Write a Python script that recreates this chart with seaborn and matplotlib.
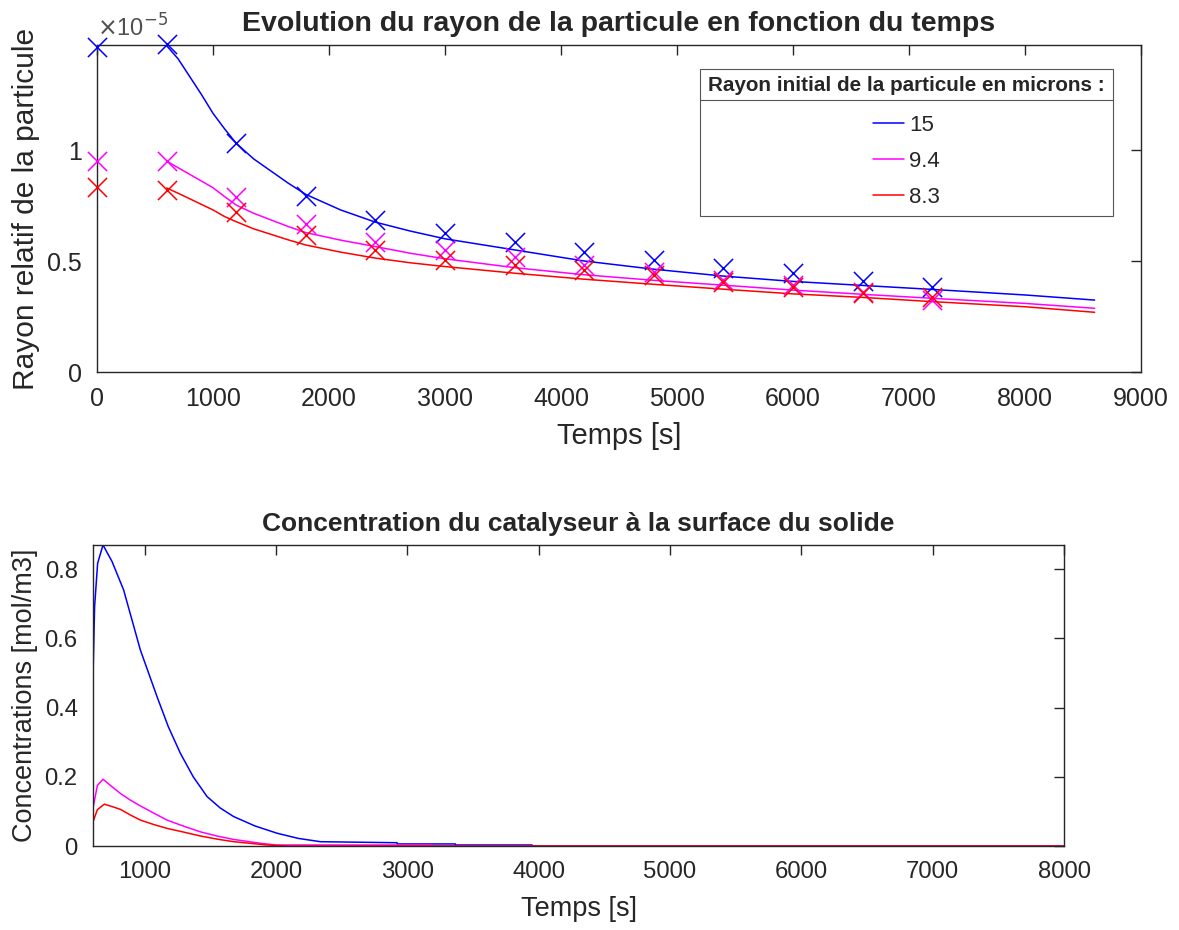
import numpy as np
import pandas as pd
import seaborn as sns
import matplotlib
matplotlib.use("Agg")
import matplotlib.pyplot as plt
from matplotlib.ticker import FuncFormatter
from matplotlib.lines import Line2D

# ---------- data ----------
rayons = ["15", "9.4", "8.3"]
couleurs = {"15": "#0000ff", "9.4": "#ff00ff", "8.3": "#ff0000"}

# mesures (croix), rayon relatif
t_mes = [0, 600, 1200, 1800, 2400, 3000, 3600, 4200, 4800, 5400, 6000, 6600, 7200]
mes_15 = [1.466e-5, 1.478e-5, 1.03e-5, 0.793e-5, 0.685e-5, 0.626e-5, 0.587e-5,
          0.542e-5, 0.505e-5, 0.467e-5, 0.447e-5, 0.41e-5, 0.384e-5]
mes_94 = [0.95e-5, 0.95e-5, 0.79e-5, 0.665e-5, 0.587e-5, 0.55e-5, 0.52e-5,
          0.482e-5, 0.452e-5, 0.414e-5, 0.392e-5, 0.362e-5, 0.324e-5]
mes_83 = [0.835e-5, 0.82e-5, 0.722e-5, 0.617e-5, 0.55e-5, 0.505e-5, 0.482e-5,
          0.459e-5, 0.437e-5, 0.407e-5, 0.384e-5, 0.354e-5, 0.339e-5]

# modele (lignes)
t_mod = [600, 700, 800, 900, 1000, 1100, 1200, 1350, 1500, 1650, 1800, 2100, 2400,
         2700, 3000, 3600, 4200, 4800, 5400, 6000, 6600, 7200, 8000, 8600]
mod_15 = [1.47e-5, 1.41e-5, 1.33e-5, 1.25e-5, 1.165e-5, 1.095e-5, 1.03e-5, 0.96e-5,
          0.905e-5, 0.85e-5, 0.80e-5, 0.73e-5, 0.675e-5, 0.635e-5, 0.60e-5, 0.55e-5,
          0.50e-5, 0.463e-5, 0.432e-5, 0.408e-5, 0.39e-5, 0.372e-5, 0.347e-5, 0.324e-5]
mod_94 = [0.95e-5, 0.92e-5, 0.89e-5, 0.86e-5, 0.83e-5, 0.79e-5, 0.752e-5, 0.715e-5,
          0.685e-5, 0.655e-5, 0.628e-5, 0.594e-5, 0.565e-5, 0.535e-5, 0.51e-5, 0.47e-5,
          0.438e-5, 0.413e-5, 0.391e-5, 0.369e-5, 0.35e-5, 0.332e-5, 0.309e-5, 0.287e-5]
mod_83 = [0.829e-5, 0.805e-5, 0.78e-5, 0.755e-5, 0.73e-5, 0.70e-5, 0.677e-5, 0.645e-5,
          0.62e-5, 0.595e-5, 0.572e-5, 0.54e-5, 0.513e-5, 0.492e-5, 0.475e-5, 0.445e-5,
          0.418e-5, 0.395e-5, 0.373e-5, 0.352e-5, 0.336e-5, 0.317e-5, 0.294e-5, 0.269e-5]

# concentrations a la surface
t_c15 = [607, 607, 619, 642, 683, 752, 840, 967, 1094, 1180, 1272, 1370, 1475, 1575,
         1678, 1840, 2008, 2170, 2338, 2922, 2923, 3366, 3367, 3950, 3951, 8000]
c_15 = [0, 0.49, 0.692, 0.817, 0.87, 0.822, 0.74, 0.567, 0.432, 0.345, 0.268, 0.20,
        0.143, 0.11, 0.085, 0.058, 0.037, 0.022, 0.0125, 0.0095, 0.006, 0.006, 0.003,
        0.003, 0, 0]
t_c94 = [607, 607, 640, 683, 740, 815, 890, 967, 1070, 1170, 1300, 1424, 1550, 1678,
         1881, 2000, 3189, 3190, 8000]
c_94 = [0, 0.11, 0.175, 0.193, 0.175, 0.152, 0.133, 0.116, 0.095, 0.075, 0.057, 0.041,
        0.029, 0.019, 0.008, 0.003, 0.003, 0, 0]
t_c83 = [607, 607, 640, 693, 760, 815, 890, 967, 1070, 1170, 1300, 1424, 1550, 1678,
         1932, 2100, 8000]
c_83 = [0, 0.07, 0.105, 0.121, 0.113, 0.106, 0.09, 0.075, 0.062, 0.051, 0.04, 0.029,
        0.02, 0.0125, 0.003, 0, 0]

mes = pd.DataFrame({"t": t_mes * 3, "r": mes_15 + mes_94 + mes_83,
                    "rayon": ["15"] * 13 + ["9.4"] * 13 + ["8.3"] * 13})
n = len(t_mod)
mod = pd.DataFrame({"t": t_mod * 3, "r": mod_15 + mod_94 + mod_83,
                    "rayon": ["15"] * n + ["9.4"] * n + ["8.3"] * n})
conc = pd.DataFrame({"t": t_c15 + t_c94 + t_c83, "c": c_15 + c_94 + c_83,
                     "rayon": ["15"] * len(t_c15) + ["9.4"] * len(t_c94) + ["8.3"] * len(t_c83)})

# ---------- figure ----------
sns.set_style("white")
plt.rcParams["font.family"] = ["Liberation Sans", "DejaVu Sans"]
gris = "#262626"

fig = plt.figure(figsize=(11.79, 9.30), dpi=100)
ax1 = fig.add_axes([0.0823, 0.6, 0.8855, 0.3516])
ax2 = fig.add_axes([0.0789, 0.0903, 0.8236, 0.3237])

for k in rayons:
    d = mod[mod.rayon == k]
    sns.lineplot(data=d, x="t", y="r", color=couleurs[k], lw=1.1, ax=ax1,
                 sort=False, label=k, estimator=None)
    m = mes[mes.rayon == k]
    sns.scatterplot(data=m, x="t", y="r", color=couleurs[k], marker="x", s=190,
                    linewidth=1.1, ax=ax1, clip_on=False, zorder=5, legend=False)
    c = conc[conc.rayon == k]
    sns.lineplot(data=c, x="t", y="c", color=couleurs[k], lw=1.1, ax=ax2,
                 sort=False, estimator=None, legend=False)

for ax in (ax1, ax2):
    for sp in ax.spines.values():
        sp.set_color(gris)
        sp.set_linewidth(1.0)
    ax.tick_params(direction="in", top=True, right=True, length=7, width=1.0,
                   colors=gris, labelcolor=gris, pad=11)

ax1.set_xlim(0, 9000)
ax1.set_ylim(0, 1.473e-5)
ax1.set_xticks(np.arange(0, 9001, 1000))
ax1.set_yticks([0, 0.5e-5, 1e-5])
ax1.yaxis.set_major_formatter(FuncFormatter(lambda v, p: f"{v * 1e5:g}"))
ax1.tick_params(labelsize=18)
ax1.text(0.0, 1.01, r"$\times$10$^{-5}$", transform=ax1.transAxes, fontsize=17,
         color="#505050", ha="left", va="bottom")
ax1.set_xlabel("Temps [s]", fontsize=21, color=gris, labelpad=8)
ax1.set_ylabel("Rayon relatif de la particule", fontsize=21.5, color=gris, labelpad=5)
ax1.set_title("Evolution du rayon de la particule en fonction du temps",
              fontsize=20.5, fontweight="bold", pad=10)

leg = ax1.legend(title="Rayon initial de la particule en microns :", loc="upper right",
                 bbox_to_anchor=(0.9835, 0.962), fontsize=16, frameon=True, fancybox=False,
                 framealpha=1, edgecolor="#555555", handlelength=1.4, handletextpad=0.2,
                 borderpad=0.35, labelspacing=0.68)
leg.get_title().set_fontweight("bold")
leg.get_title().set_fontsize(14.9)
leg.get_frame().set_linewidth(0.8)
leg._legend_box.sep = 14

ax2.set_xlim(607, 8000)
ax2.set_ylim(0, 0.87)
ax2.set_xticks(np.arange(1000, 8001, 1000))
ax2.set_yticks([0, 0.2, 0.4, 0.6, 0.8])
ax2.yaxis.set_major_formatter(FuncFormatter(lambda v, p: f"{v:g}"))
ax2.tick_params(labelsize=17.2)
ax2.set_xlabel("Temps [s]", fontsize=19.5, color=gris, labelpad=9)
ax2.set_ylabel("Concentrations [mol/m3]", fontsize=19.5, color=gris, labelpad=5)
ax2.set_title("Concentration du catalyseur à la surface du solide",
              fontsize=19, fontweight="bold", pad=10)

# trait sous le titre de la legende
fig.canvas.draw()
r = fig.canvas.get_renderer()
fb = leg.get_frame().get_window_extent(r)
tb = leg.get_title().get_window_extent(r)
yl = tb.y0 - 5
fig.add_artist(Line2D([fb.x0 / fig.bbox.width, fb.x1 / fig.bbox.width],
                      [yl / fig.bbox.height, yl / fig.bbox.height],
                      color="#555555", lw=0.8))

fig.savefig("out.png", dpi=100)
